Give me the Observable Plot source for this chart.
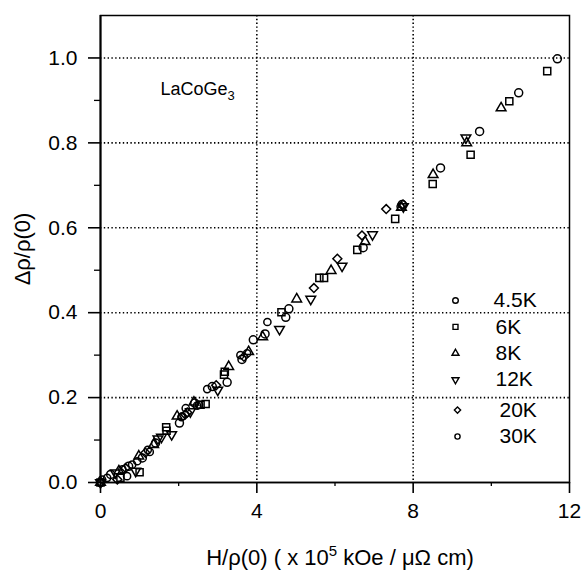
<!DOCTYPE html>
<html><head><meta charset="utf-8">
<script src="https://cdn.jsdelivr.net/npm/d3@7"></script>
<script src="https://cdn.jsdelivr.net/npm/@observablehq/plot@0.6"></script>
<style>
body{margin:0;background:#fff}
svg{font-family:"Liberation Sans",Arial,Helvetica,sans-serif}
</style>
</head><body><div id="chart"></div>
<script>
// ---- data ----
const seriesNames = ["4.5K","6K","8K","12K","20K","30K"];

const x45 = [0,0.26,0.72,1.07,1.41,2.02,2.41,2.86,3.24,3.62,3.91,4.21,4.74,4.82,6.72,7.72,8.70,9.70,10.70,11.69];
const y45 = [0,0.019,0.038,0.058,0.093,0.140,0.187,0.226,0.236,0.290,0.336,0.350,0.389,0.409,0.553,0.655,0.741,0.827,0.918,0.998];

const x6 = [0,0.51,1.00,1.69,1.68,2.56,2.69,3.16,3.18,4.63,5.60,5.72,6.57,7.54,8.50,9.47,10.46,11.43];
const y6 = [0,0.011,0.024,0.122,0.130,0.183,0.185,0.254,0.261,0.401,0.482,0.482,0.548,0.621,0.703,0.772,0.898,0.969];

const x8 = [0,0.47,0.98,1.36,1.96,2.39,3.28,3.79,4.15,5.02,5.90,6.77,7.70,8.51,9.37,10.25];
const y8 = [0,0.027,0.062,0.089,0.156,0.189,0.273,0.308,0.343,0.432,0.499,0.567,0.648,0.725,0.800,0.882];

const x12 = [0,0.38,0.90,1.47,1.56,1.82,2.30,3.00,4.58,5.38,6.18,6.96,7.75,9.35];
const y12 = [0,0.023,0.027,0.103,0.107,0.113,0.167,0.218,0.361,0.432,0.510,0.584,0.650,0.812];

const x20 = [0,0.43,0.64,1.15,2.17,2.22,2.96,3.67,5.46,6.06,6.69,7.31,7.74];
const y20 = [0,0.007,0.034,0.070,0.160,0.165,0.229,0.296,0.458,0.527,0.582,0.644,0.655];

const x30 = [0,0.04,0.17,0.56,0.68,0.81,0.94,1.21,1.26,2.07,2.09,2.18,2.47,2.52,2.73,3.58,3.75,4.27,7.68];
const y30 = [0,0.007,0.011,0.031,0.015,0.042,0.050,0.077,0.072,0.154,0.156,0.175,0.181,0.183,0.220,0.300,0.304,0.378,0.650];

const xTicks = [0,4,8,12];
const xMinor = [2,6,10];
const yTicks = [0,0.2,0.4,0.6,0.8,1.0];
const yMinor = [0.1,0.3,0.5,0.7,0.9];
const xGrid = [4,8];
const yGrid = [0.2,0.4,0.6,0.8,1.0];

const xs = [x45,x6,x8,x12,x20,x30];
const ys = [y45,y6,y8,y12,y20,y30];

// ---- symbols ----
const triangleDown = {
  draw(context, size) {
    const y = -Math.sqrt(size / (Math.sqrt(3) * 3));
    context.moveTo(0, -y * 2);
    context.lineTo(-Math.sqrt(3) * y, y);
    context.lineTo(Math.sqrt(3) * y, y);
    context.closePath();
  }
};
const symbols = ["circle","square","triangle",triangleDown,"diamond2","circle"];
const radii = [4,4,3.6,3.6,4,3.6];
const legendR = [2.8,2.8,2.6,2.6,2.8,2.6];

const tables = seriesNames.map((name, k) => xs[k].map((xv, i) => ({x: xv, y: ys[k][i], series: name})));

const FONT = 21;
const dataMarks = tables.map((t, k) => Plot.dot(t, {
  x: "x", y: "y", symbol: symbols[k], r: radii[k],
  stroke: "black", strokeWidth: 1.5, fill: "none"
}));

// legend (layout in pixels from the frame's top-left)
const legendMarks = [];
seriesNames.forEach((name, k) => {
  const rowDy = 285 + k * 26.4 + (k >= 4 ? 4 : 0);
  legendMarks.push(Plot.dot([name], {frameAnchor: "top-left", dx: 355 + (k >= 4 ? 2 : 0), dy: rowDy,
    symbol: symbols[k], r: legendR[k], stroke: "black", strokeWidth: 1.4, fill: "none"}));
  legendMarks.push(Plot.text([name], {frameAnchor: "top-left", dx: 393 + (k >= 4 ? 6 : (k > 0 ? 2 : 0)), dy: rowDy,
    text: d => d, textAnchor: "start", lineAnchor: "middle", fontSize: FONT, fill: "black"}));
});

const plot = Plot.plot({
  width: 583, height: 582,
  marginLeft: 100, marginRight: 14, marginTop: 15, marginBottom: 100,
  x: {domain: [0, 12]},
  y: {domain: [0, 1.1]},
  style: {fontFamily: '"Liberation Sans",Arial,sans-serif', background: "white", color: "black"},
  marks: [
    Plot.ruleX(xGrid, {stroke: "black", strokeWidth: 1.6, strokeDasharray: "1.4,2.4"}),
    Plot.ruleY(yGrid, {stroke: "black", strokeWidth: 1.6, strokeDasharray: "1.4,2.4"}),
    Plot.frame({stroke: "black", strokeWidth: 1.5}),
    Plot.ruleX([0], {stroke: "black", strokeWidth: 2}),
    Plot.ruleY([0], {stroke: "black", strokeWidth: 1.6}),
    Plot.axisY({ticks: yTicks, tickSize: 12, tickPadding: 11, tickFormat: d => d.toFixed(1), fontSize: FONT, label: null, strokeWidth: 1.6}),
    Plot.axisY({ticks: yMinor, tickSize: 6, tickFormat: () => "", label: null, strokeWidth: 1.3}),
    Plot.axisX({ticks: xTicks, tickSize: 11, tickPadding: 10, tickFormat: d => String(d), fontSize: FONT, label: null, strokeWidth: 1.6}),
    Plot.axisX({ticks: xMinor, tickSize: 4, tickFormat: () => "", label: null, strokeWidth: 1.3}),
    ...dataMarks,
    ...legendMarks,
    Plot.text(["LaCoGe3"], {frameAnchor: "top-left", dx: 60, dy: 74, text: d => d, textAnchor: "start", lineAnchor: "middle", fontSize: 18, fill: "black"}),
    Plot.text(["Δρ/ρ(0)"], {frameAnchor: "left", dx: -78, text: d => d, rotate: -90, textAnchor: "middle", lineAnchor: "middle", fontSize: 22, fill: "black"}),
    Plot.text(["XLABEL"], {frameAnchor: "bottom", dx: 5, dy: 75, text: d => d, textAnchor: "middle", lineAnchor: "middle", fontSize: 22, fill: "black"})
  ]
});

// rich text: subscript / superscript
const NS = "http://www.w3.org/2000/svg";
function tspan(txt, attrs) {
  const t = document.createElementNS(NS, "tspan");
  for (const k in attrs) t.setAttribute(k, attrs[k]);
  t.textContent = txt;
  return t;
}
plot.querySelectorAll("text").forEach(el => {
  if (el.textContent === "LaCoGe3") {
    el.textContent = "";
    el.appendChild(tspan("LaCoGe", {}));
    el.appendChild(tspan("3", {dy: "5", "font-size": "13"}));
  } else if (el.textContent === "XLABEL") {
    el.textContent = "";
    el.appendChild(tspan("H/ρ(0) ( x 10", {}));
    el.appendChild(tspan("5", {dy: "-9", "font-size": "15"}));
    el.appendChild(tspan(" kOe / μΩ cm)", {dy: "9"}));
  }
});

document.getElementById("chart").appendChild(plot);
</script>
</body></html>
